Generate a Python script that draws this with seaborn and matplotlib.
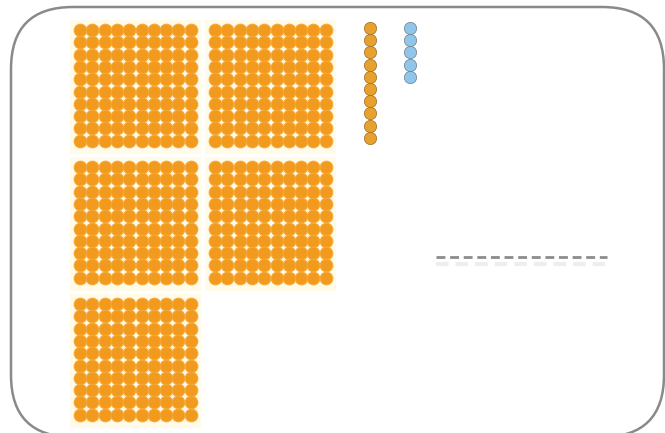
import numpy as np
import pandas as pd
import seaborn as sns
import matplotlib.pyplot as plt
from matplotlib.patches import FancyBboxPatch, Rectangle

# place-value picture: hundreds blocks, a column of ones, a column of extra ones
block_rows = [2, 2, 1]          # hundreds blocks per row
block_size = 10                 # 10 x 10 dots per block
orange_column = 10
blue_column = 5

block_x0 = [74, 209]
block_y0 = [24, 161, 298]
pitch = 12.3

rows = []
for r, n in enumerate(block_rows):
    for c in range(n):
        for i in range(block_size):
            for j in range(block_size):
                rows.append({"x": block_x0[c] + 6 + j * pitch,
                             "y": block_y0[r] + 6 + i * pitch,
                             "kind": "hundred"})
blocks = pd.DataFrame(rows)

ones = pd.DataFrame({"x": [370] * orange_column,
                     "y": [28 + k * 12.2 for k in range(orange_column)],
                     "kind": "orange"})
extra = pd.DataFrame({"x": [410] * blue_column,
                      "y": [28 + k * 12.2 for k in range(blue_column)],
                      "kind": "blue"})

sns.set_style("white")
fig = plt.figure(figsize=(6.65, 4.33), dpi=100)

# background axes (y up) just for the rounded frame
bg = fig.add_axes([0, 0, 1, 1])
bg.set_xlim(0, 665)
bg.set_ylim(0, 433)
bg.axis("off")
frame = FancyBboxPatch((11, -4), 653, 430, boxstyle="round,pad=0,rounding_size=62",
                       fill=False, ec="#8a8a8a", lw=1.8)
bg.add_patch(frame)

ax = fig.add_axes([0, 0, 1, 1])
ax.set_xlim(0, 665)
ax.set_ylim(433, 0)
ax.axis("off")
ax.patch.set_alpha(0)

# pale backing behind each block
for r, n in enumerate(block_rows):
    for c in range(n):
        ax.add_patch(Rectangle((block_x0[c] - 4, block_y0[r] - 4), 131, 134,
                               fc="#fffbe8", ec="none", zorder=1))

sns.scatterplot(data=blocks, x="x", y="y", ax=ax, color="#f29a1d", s=82,
                edgecolor="#f5a836", linewidth=0.8, zorder=2, legend=False)
sns.scatterplot(data=ones, x="x", y="y", ax=ax, color="#e6a12e", s=78,
                edgecolor="#9a6a20", linewidth=0.5, zorder=3, legend=False)
sns.scatterplot(data=extra, x="x", y="y", ax=ax, color="#90c6ea", s=78,
                edgecolor="#6a7c88", linewidth=0.5, zorder=3, legend=False)

# answer blank with a soft shadow
ax.plot([436, 607], [264, 264], color="#eeeeee", lw=3, ls=(0, (3.0, 1.7)), zorder=1)
ax.plot([436, 607], [257, 257], color="#8c8c8c", lw=2, ls=(0, (3.2, 1.7)), zorder=2)

ax.set_xlabel("")
ax.set_ylabel("")
fig.savefig("out.png", dpi=100)
